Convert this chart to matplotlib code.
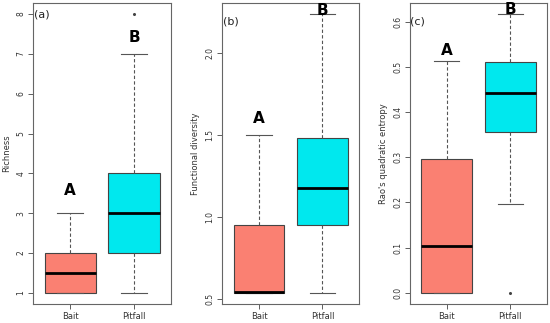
"""
Three boxplots (Bait vs Pitfall): richness, functional diversity, Rao's Q.
Drawn in base-R style with matplotlib's bxp.
"""

import matplotlib
matplotlib.use('Agg')
import matplotlib.pyplot as plt

GROUPS = ['Bait', 'Pitfall']
COLORS = ['#FA8072', '#00E8EE']

# Richness
RICH_Q1 = [1.0, 2.0]
RICH_MED = [1.5, 3.0]
RICH_Q3 = [2.0, 4.0]
RICH_LO = [1.0, 1.0]
RICH_HI = [3.0, 7.0]
RICH_FLIERS = [[], [8.0]]
RICH_LETTERS = [('A', 3.57), ('B', 7.42)]

# Functional diversity
FD_Q1 = [0.54, 0.95]
FD_MED = [0.545, 1.18]
FD_Q3 = [0.95, 1.48]
FD_LO = [0.54, 0.54]
FD_HI = [1.50, 2.235]
FD_FLIERS = [[], []]
FD_LETTERS = [('A', 1.60), ('B', 2.255)]

# Rao's quadratic entropy
RAO_Q1 = [0.0, 0.357]
RAO_MED = [0.104, 0.443]
RAO_Q3 = [0.297, 0.510]
RAO_LO = [0.0, 0.197]
RAO_HI = [0.513, 0.617]
RAO_FLIERS = [[], [0.0]]
RAO_LETTERS = [('A', 0.536), ('B', 0.628)]

PANELS = [
    ('(a)', 'Richness', RICH_Q1, RICH_MED, RICH_Q3, RICH_LO, RICH_HI,
     RICH_FLIERS, RICH_LETTERS, [1, 2, 3, 4, 5, 6, 7, 8], 8.0),
    ('(b)', 'Functional diversity', FD_Q1, FD_MED, FD_Q3, FD_LO, FD_HI,
     FD_FLIERS, FD_LETTERS, [0.5, 1.0, 1.5, 2.0], 2.19),
    ('(c)', "Rao's quadratic entropy", RAO_Q1, RAO_MED, RAO_Q3, RAO_LO, RAO_HI,
     RAO_FLIERS, RAO_LETTERS, [0.0, 0.1, 0.2, 0.3, 0.4, 0.5, 0.6], 0.60),
]

AX_LEFT = [0.060, 0.404, 0.745]
AX_WIDTH = [0.251, 0.249, 0.250]

fig = plt.figure(figsize=(5.5, 3.23), dpi=100)

for i, (tag, ylabel, q1, med, q3, lo, hi, fliers, letters, yticks, tag_y) in enumerate(PANELS):
    ax = fig.add_axes([AX_LEFT[i], 0.059, AX_WIDTH[i], 0.932])
    stats = []
    for k, g in enumerate(GROUPS):
        stats.append(dict(label=g, q1=q1[k], med=med[k], q3=q3[k],
                          whislo=lo[k], whishi=hi[k], fliers=fliers[k]))
    bp = ax.bxp(stats, positions=[1, 2], widths=0.8, patch_artist=True,
                boxprops=dict(edgecolor='#444444', linewidth=0.8),
                medianprops=dict(color='black', linewidth=2.0),
                whiskerprops=dict(color='#555555', linewidth=0.8,
                                  linestyle=(0, (3, 2))),
                capprops=dict(color='#555555', linewidth=0.8),
                flierprops=dict(marker='o', markersize=1.2,
                                markerfacecolor='#444444',
                                markeredgecolor='#444444'),
                capwidths=0.4)
    for patch, c in zip(bp['boxes'], COLORS):
        patch.set_facecolor(c)

    # R-style axis limits: 4% padding
    vals = lo + hi + [v for f in fliers for v in f]
    vmin, vmax = min(vals), max(vals)
    pad = 0.04 * (vmax - vmin)
    ax.set_ylim(vmin - pad, vmax + pad)
    ax.set_xlim(0.42, 2.58)

    for k, (letter, y) in enumerate(letters):
        ax.text(k + 1, y, letter, ha='center', va='center',
                fontsize=11, fontweight='bold')
    ax.text(0.43, tag_y, tag, ha='left', va='center', fontsize=8,
            color='#222222')

    ax.set_yticks(yticks)
    ax.set_yticklabels([f'{t:g}' if i == 0 else f'{t:.1f}' for t in yticks],
                       rotation=90, va='center', fontsize=5.5)
    ax.set_xticks([1, 2])
    ax.set_xticklabels(GROUPS, fontsize=6)
    ax.tick_params(direction='out', length=3.5, width=0.6, colors='#444444',
                   labelcolor='#333333', pad=2)
    ax.set_ylabel(ylabel, fontsize=6, color='#333333', labelpad=4)
    for s in ax.spines.values():
        s.set_color('#666666')
        s.set_linewidth(0.8)

fig.savefig('out.png', dpi=100)
